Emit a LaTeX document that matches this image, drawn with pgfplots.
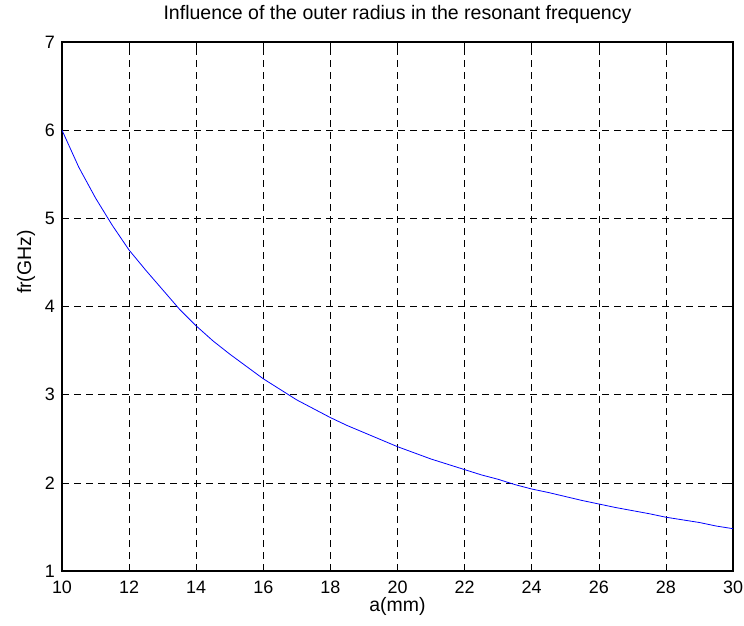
\documentclass[border=0pt]{standalone}
\usepackage{pgfplots}
\pgfplotsset{compat=1.18}
\usepackage{fontspec}
\setmainfont{Liberation Sans}
\begin{document}
\begin{tikzpicture}
\path[use as bounding box] (-62bp,-55bp) rectangle (682bp,571bp);
\begin{axis}[
  at={(0,0)}, anchor=south west,
  scale only axis, width=671bp, height=529bp,
  xmin=10, xmax=30, ymin=1, ymax=7,
  xtick={10,12,...,30}, ytick={1,2,...,7},
  tick align=inside, major tick length=7bp,
  tick style={black, line width=0.6bp},
  axis line style={black, line width=1.1bp},
  grid=major,
  major grid style={black, line width=0.6bp, dash pattern=on 7bp off 5bp},
  /pgf/number format/assume math mode=true,
  ticklabel style={font=\fontsize{18}{21}\selectfont},
  xticklabel style={anchor=base, inner sep=0pt, yshift=-22bp},
  yticklabel style={anchor=east, inner sep=0pt, xshift=-7bp},
  title={Influence of the outer radius in the resonant frequency},
  title style={font=\fontsize{19.6}{23}\selectfont, inner sep=0pt, at={(rel axis cs:0.5,1)}, anchor=base, yshift=17bp},
  xlabel={a(mm)},
  xlabel style={font=\fontsize{19.5}{23}\selectfont, inner sep=0pt, at={(rel axis cs:0.5,0)}, anchor=base, yshift=-40bp},
  ylabel={fr(GHz)},
  ylabel style={font=\fontsize{19.5}{23}\selectfont, inner sep=0pt, at={(rel axis cs:0,0.584)}, anchor=center, yshift=36bp},
]
\addplot[blue, line width=0.8bp] coordinates {
(10,6.00) (10.5,5.58) (11,5.23) (11.5,4.92) (12,4.64) (12.5,4.41)
(13,4.19) (13.5,3.97) (14,3.78) (14.5,3.61) (15,3.46) (15.5,3.32)
(16,3.18) (16.5,3.06) (17,2.94) (17.5,2.84) (18,2.74) (18.5,2.65)
(19,2.57) (19.5,2.49) (20,2.41) (20.5,2.34) (21,2.27) (21.5,2.21)
(22,2.15) (22.5,2.09) (23,2.04) (23.5,1.98) (24,1.93) (24.5,1.89)
(25,1.845) (25.5,1.80) (26,1.76) (26.5,1.72) (27,1.685) (27.5,1.65)
(28,1.61) (28.5,1.58) (29,1.55) (29.5,1.51) (30,1.48)
};
\end{axis}
\end{tikzpicture}
\end{document}
